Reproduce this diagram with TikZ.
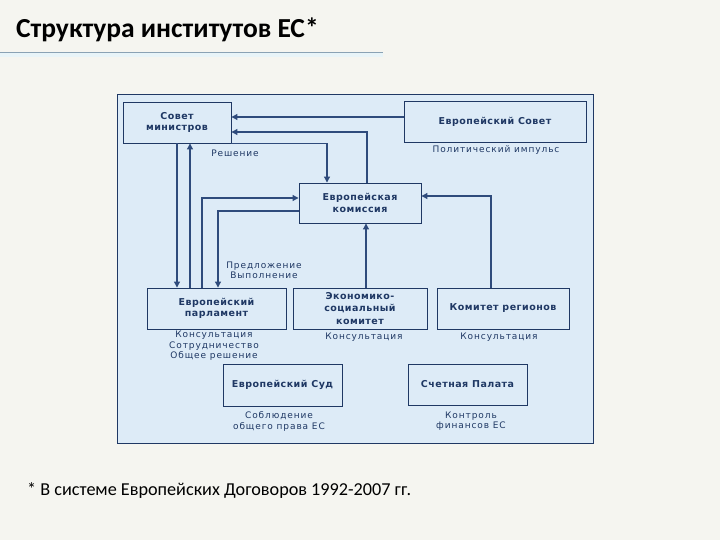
\documentclass[tikz,border=0pt]{standalone}
\usepackage{fontspec}
\setmainfont{Carlito}
\newfontfamily\dv[LetterSpace=10]{DejaVu Sans}
\newfontfamily\dvb[LetterSpace=5]{DejaVu Sans}
\usetikzlibrary{arrows.meta}
\definecolor{pagebg}{HTML}{F5F5F0}
\definecolor{framefill}{HTML}{DDEBF7}
\definecolor{navy}{HTML}{1F3864}
\definecolor{linec}{HTML}{2F4B7C}
\definecolor{rulec}{HTML}{8AA2B4}
\definecolor{bandc}{HTML}{E8F4F8}
\tikzset{
  box/.style={draw=navy, line width=0.9pt, fill=framefill, align=center,
    font=\dvb\bfseries\fontsize{9.5}{11.5}\selectfont, text=navy, inner sep=0pt},
  lbl/.style={font=\dv\fontsize{9}{10.5}\selectfont, text=navy, align=center, inner sep=0pt},
  arr/.style={draw=linec, line width=1.1pt, -{Triangle[length=6pt,width=6pt]}},
  plain/.style={draw=linec, line width=1.1pt}
}
\begin{document}
\begin{tikzpicture}[x=1pt,y=-1pt]
\fill[pagebg] (0,0) rectangle (720,540);
\useasboundingbox (0,0) rectangle (720,540);
% title
\node[anchor=base west, inner sep=0pt, font=\bfseries\fontsize{27.5}{32}\selectfont] (title) at (16,38) {Структура институтов ЕС*};
\fill[bandc] (0,53.5) rectangle (383,57);
\draw[rulec, line width=1pt] (0,53) -- (383,53);
% frame
\node[draw=navy, line width=0.9pt, fill=framefill, minimum width=476pt, minimum height=349pt, inner sep=0pt] (frame) at (355,268.5) {};
% boxes
\node[box, minimum width=108pt, minimum height=41pt] (SM) at (177,122.5) {Совет\\министров};
\node[box, minimum width=182pt, minimum height=41pt] (ES) at (495,121.5) {Европейский Совет};
\node[box, minimum width=122pt, minimum height=40pt] (EC) at (360,203) {Европейская\\комиссия};
\node[box, minimum width=139pt, minimum height=41pt] (EP) at (216.5,308.5) {Европейский\\парламент};
\node[box, minimum width=134pt, minimum height=41pt, font=\dvb\bfseries\fontsize{9.5}{12.5}\selectfont] (ESC) at (360,308.5) {Экономико-\\социальный\\комитет};
\node[box, minimum width=132pt, minimum height=41pt] (CR) at (503,308.5) {Комитет регионов};
\node[box, minimum width=119pt, minimum height=42pt] (CJ) at (282.5,385) {Европейский Суд};
\node[box, minimum width=119pt, minimum height=41pt] (CA) at (467.5,384.5) {Счетная Палата};
% labels
\node[lbl] (l1) at (235,153) {Решение};
\node[lbl] (l2) at (496,150) {Политический импульс};
\node[lbl] (l3) at (264,270.5) {Предложение\\Выполнение};
\node[lbl] (l4) at (214,346) {Консультация\\Сотрудничество\\Общее решение};
\node[lbl] (l5) at (364,337) {Консультация};
\node[lbl] (l6) at (499,337) {Консультация};
\node[lbl] (l7) at (279,421.5) {Соблюдение\\общего права ЕС};
\node[lbl] (l8) at (471,421) {Контроль\\финансов ЕС};
% connectors
\draw[arr] (ES.west |- 0,117) -- (SM.east |- 0,117);
\draw[arr] (EC.north -| 367,0) |- (SM.east |- 0,132);
\draw[arr] (SM.south east) -| (EC.north -| 327,0);
\draw[arr] (SM.south -| 177,0) -- (EP.north -| 177,0);
\draw[arr] (EP.north -| 190,0) -- (SM.south -| 190,0);
\draw[arr] (EP.north -| 202,0) |- (EC.west |- 0,198);
\draw[arr] (EC.west |- 0,211) -| (EP.north -| 218,0);
\draw[arr] (ESC.north -| 366,0) -- (EC.south -| 366,0);
\draw[arr] (CR.north -| 491,0) |- (EC.east |- 0,196);
% footnote
\node[anchor=base west, inner sep=0pt, font=\fontsize{18.2}{22}\selectfont] (foot) at (27,495) {* В системе Европейских Договоров 1992-2007 гг.};
\end{tikzpicture}
\end{document}
